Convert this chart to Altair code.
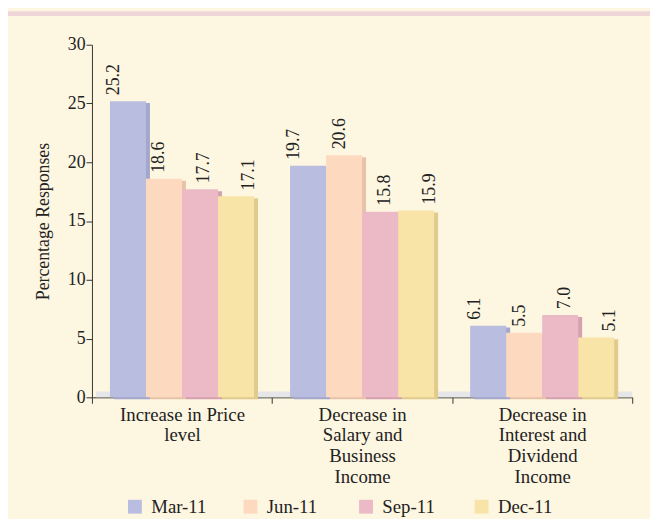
import altair as alt
import pandas as pd

categories = [
    "Increase in Price|level",
    "Decrease in|Salary and|Business|Income",
    "Decrease in|Interest and|Dividend|Income",
]
periods = ["Mar-11", "Jun-11", "Sep-11", "Dec-11"]
mar_11 = [25.2, 19.7, 6.1]
jun_11 = [18.6, 20.6, 5.5]
sep_11 = [17.7, 15.8, 7.0]
dec_11 = [17.1, 15.9, 5.1]
colors = ["#B9BDDF", "#FDDABF", "#EBBAC6", "#F8E4A6"]
shadow_colors = ["#A2A7CB", "#E6C3A8", "#D4A2AF", "#E0CB8D"]

rows = []
for p, vals, s in zip(periods, [mar_11, jun_11, sep_11, dec_11], shadow_colors):
    for cat, v in zip(categories, vals):
        rows.append({"category": cat, "period": p, "value": v, "shadow": s})
df = pd.DataFrame(rows)

W, H = 547, 357
BW = W / 3
FONT = "Liberation Serif"

x_enc = alt.X(
    "category:N",
    sort=categories,
    scale=alt.Scale(paddingInner=0, paddingOuter=0),
    axis=alt.Axis(
        title=None,
        labelAngle=0,
        labelExpr="split(datum.label, '|')",
        tickBand="extent",
        labelFontSize=19,
        labelFont=FONT,
        labelColor="#222222",
        labelLineHeight=21,
        labelPadding=2,
        tickSize=6,
        domainColor="#333333",
        tickColor="#333333",
    ),
)
xoff = alt.XOffset("period:N", sort=periods, scale=alt.Scale(paddingInner=0, paddingOuter=0.5))
xoff_sh = alt.XOffset(
    "period:N", sort=periods,
    scale=alt.Scale(paddingInner=0, paddingOuter=0.5, range=[4, BW + 4]),
)
y_enc = alt.Y(
    "value:Q",
    scale=alt.Scale(domain=[0, 30]),
    axis=alt.Axis(
        title="Percentage  Responses",
        values=[0, 5, 10, 15, 20, 25, 30],
        grid=False,
        labelFontSize=18,
        labelFont=FONT,
        labelColor="#222222",
        labelPadding=1,
        titleFont=FONT,
        titleFontSize=18,
        titleFontWeight="normal",
        titleColor="#222222",
        titlePadding=15,
        tickSize=6,
        domainColor="#333333",
        tickColor="#333333",
    ),
)

one = alt.Data(values=[{}])

band = alt.Chart(one).mark_rect(color="#EFD5D8").encode(
    x=alt.value(-85), x2=alt.value(W + 18), y=alt.value(-34), y2=alt.value(-29)
)
floor = alt.Chart(one).mark_rect(color="#E6E6E8").encode(
    x=alt.value(4), x2=alt.value(W), y=alt.value(H - 6), y2=alt.value(H)
)

shadow = alt.Chart(df).mark_bar(yOffset=2).encode(
    x=x_enc, xOffset=xoff_sh, y=y_enc, color=alt.Color("shadow:N", scale=None)
)

bars = alt.Chart(df).mark_bar().encode(
    x=x_enc,
    xOffset=xoff,
    y=y_enc,
    color=alt.Color(
        "period:N",
        sort=periods,
        scale=alt.Scale(domain=periods, range=colors),
        legend=alt.Legend(
            title=None,
            orient="none",
            direction="horizontal",
            legendX=34,
            legendY=458,
            symbolType="square",
            symbolSize=196,
            symbolStrokeWidth=0,
            labelFontSize=19,
            labelFont=FONT,
            labelColor="#222222",
            labelOffset=7,
            gridAlign="all",
            columnPadding=35,
            padding=0,
        ),
    ),
)

labels = alt.Chart(df).mark_text(
    angle=270, align="left", baseline="middle", dx=6, fontSize=18, font=FONT, color="#222222"
).encode(
    x=x_enc,
    xOffset=xoff,
    y=y_enc,
    text=alt.Text("value:Q", format=".1f"),
)

chart = (
    alt.layer(band, floor, shadow, bars, labels)
    .resolve_scale(xOffset="independent")
    .properties(
        width=W,
        height=H,
        autosize=alt.AutoSizeParams(type="none"),
        padding={"left": 85, "top": 34, "right": 18, "bottom": 120},
        background="#FDF6E1",
    )
    .configure_view(stroke=None)
)

chart.save("out.html", embed_options={"renderer": "svg", "actions": False})
